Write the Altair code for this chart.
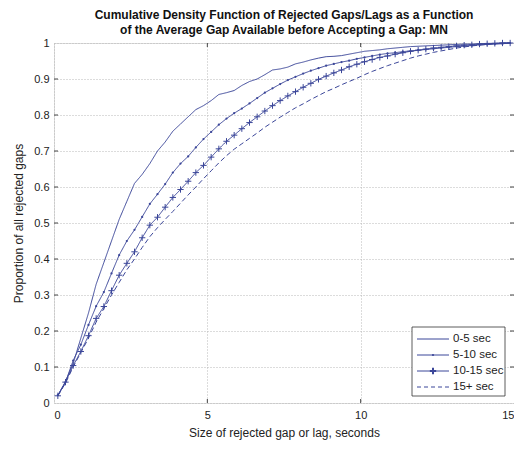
import altair as alt
import numpy as np
import pandas as pd

# bin centers, seconds
gap_s = list(np.round(np.arange(0.125, 15.0, 0.25), 3))

series_names = ["0-5 sec", "5-10 sec", "10-15 sec", "15+ sec"]

cdf_0_5 = [0.02, 0.06, 0.11, 0.18, 0.25, 0.33, 0.39, 0.45, 0.51, 0.56,
           0.61, 0.635, 0.665, 0.70, 0.725, 0.755, 0.775, 0.795, 0.815, 0.826,
           0.84, 0.857, 0.862, 0.868, 0.882, 0.893, 0.9, 0.912, 0.925, 0.928,
           0.933, 0.942, 0.947, 0.953, 0.958, 0.962, 0.963, 0.965, 0.969, 0.973,
           0.977, 0.979, 0.981, 0.984, 0.986, 0.988, 0.99, 0.991, 0.992, 0.993,
           0.994, 0.995, 0.996, 0.997, 0.997, 0.998, 0.999, 0.999, 1.0, 1.0]

cdf_5_10 = [0.022, 0.058, 0.118, 0.162, 0.217, 0.269, 0.308, 0.36, 0.411, 0.45,
            0.481, 0.517, 0.553, 0.58, 0.608, 0.64, 0.665, 0.685, 0.71, 0.733,
            0.753, 0.773, 0.79, 0.805, 0.818, 0.832, 0.847, 0.862, 0.874, 0.886,
            0.897, 0.906, 0.915, 0.923, 0.93, 0.937, 0.942, 0.947, 0.951, 0.956,
            0.96, 0.964, 0.968, 0.971, 0.973, 0.976, 0.978, 0.98, 0.982, 0.984,
            0.986, 0.988, 0.99, 0.991, 0.993, 0.995, 0.996, 0.997, 0.998, 1.0]

cdf_10_15 = [0.02, 0.058, 0.104, 0.143, 0.187, 0.235, 0.268, 0.312, 0.355, 0.388,
             0.42, 0.459, 0.494, 0.516, 0.544, 0.571, 0.593, 0.616, 0.64, 0.66,
             0.683, 0.706, 0.727, 0.744, 0.762, 0.779, 0.795, 0.811, 0.826, 0.84,
             0.853, 0.865, 0.877, 0.888, 0.899, 0.908, 0.917, 0.925, 0.934, 0.941,
             0.948, 0.954, 0.96, 0.964, 0.969, 0.973, 0.977, 0.98, 0.983, 0.986,
             0.988, 0.99, 0.992, 0.994, 0.995, 0.997, 0.998, 0.999, 1.0, 1.0]

cdf_15p = [0.02, 0.055, 0.1, 0.14, 0.18, 0.225, 0.262, 0.3, 0.335, 0.37,
           0.4, 0.432, 0.462, 0.487, 0.51, 0.532, 0.555, 0.578, 0.6, 0.623,
           0.645, 0.667, 0.687, 0.705, 0.72, 0.735, 0.75, 0.766, 0.78, 0.794,
           0.807, 0.82, 0.831, 0.843, 0.854, 0.865, 0.874, 0.884, 0.893, 0.902,
           0.912, 0.921, 0.929, 0.937, 0.944, 0.951, 0.958, 0.964, 0.969, 0.974,
           0.978, 0.982, 0.986, 0.989, 0.992, 0.994, 0.996, 0.998, 0.999, 1.0]

x_ticks = [0, 5, 10, 15]
y_ticks = [0, 0.1, 0.2, 0.3, 0.4, 0.5, 0.6, 0.7, 0.8, 0.9, 1.0]

LINE = "#3b4699"
FONT = "Liberation Sans"
W, H = 460, 360

rows = []
for name, vals in zip(series_names, [cdf_0_5, cdf_5_10, cdf_10_15, cdf_15p]):
    for g, v in zip(gap_s, vals):
        rows.append({"gap": g, "p": v, "series": name})
df = pd.DataFrame(rows)

xs = alt.Scale(domain=[0, 15], nice=False, zero=False)
ys = alt.Scale(domain=[0, 1], nice=False)

xax = alt.Axis(values=x_ticks, grid=True, gridDash=[1, 2], gridColor="#b8b8b8",
               tickSize=0, domain=False, labelPadding=6, labelFont=FONT,
               labelFontSize=11, labelColor="#222", labelOverlap=False,
               title="Size of rejected gap or lag, seconds", titleFont=FONT,
               titleFontSize=12, titleFontWeight="normal", titleColor="#222",
               titleX=W / 2, titleY=29, titleBaseline="middle", titleAlign="center")
yax = alt.Axis(values=y_ticks, format="~g", grid=True, gridDash=[1, 2],
               gridColor="#b8b8b8", tickSize=0, domain=False, labelPadding=5,
               labelFont=FONT, labelFontSize=11, labelColor="#222", labelOverlap=False,
               title="Proportion of all rejected gaps", titleFont=FONT,
               titleFontSize=12, titleFontWeight="normal", titleColor="#222",
               titleX=-36, titleY=H / 2, titleAngle=-90, titleBaseline="middle",
               titleAlign="center")

X = alt.X("gap:Q", scale=xs, axis=xax)
Y = alt.Y("p:Q", scale=ys, axis=yax)

base = alt.Chart(df)

lines = base.mark_line(strokeWidth=1, color=LINE).encode(
    x=X, y=Y,
    strokeDash=alt.StrokeDash("series:N", scale=alt.Scale(
        domain=series_names, range=[[1, 0], [1, 0], [1, 0], [5, 3]]), legend=None),
    detail="series:N",
)

dots = base.transform_filter(alt.datum.series == "5-10 sec").mark_point(
    shape="circle", filled=True, size=5, color=LINE, opacity=1
).encode(x=X, y=Y)

plus = base.transform_filter(alt.datum.series == "10-15 sec").mark_point(
    shape="M-1,0L1,0M0,-1L0,1", filled=False, size=40, color=LINE,
    strokeWidth=1, opacity=1
).encode(x=X, y=Y)

# inward tick marks (MATLAB style)
xt = pd.DataFrame({"gap": x_ticks[1:-1]})
yt = pd.DataFrame({"p": y_ticks[1:-1]})
tick_style = dict(color="#444", strokeWidth=1)
xt_bot = alt.Chart(xt).mark_rule(**tick_style).encode(
    x=X, y=alt.value(H), y2=alt.value(H - 4))
xt_top = alt.Chart(xt).mark_rule(**tick_style).encode(
    x=X, y=alt.value(0), y2=alt.value(4))
yt_l = alt.Chart(yt).mark_rule(**tick_style).encode(
    y=Y, x=alt.value(0), x2=alt.value(4))
yt_r = alt.Chart(yt).mark_rule(**tick_style).encode(
    y=Y, x=alt.value(W), x2=alt.value(W - 4))

# legend box
lx0, lx1, ly0, ly1 = W - 102, W - 9, H - 76, H - 7
leg_df = pd.DataFrame({"label": series_names})
legend_layers = [
    alt.Chart(leg_df.head(1)).mark_rect(fill="white", stroke="#333", strokeWidth=0.8).encode(
        x=alt.value(lx0), x2=alt.value(lx1), y=alt.value(ly0), y2=alt.value(ly1))
]
entry_y = [ly0 + 12, ly0 + 28, ly0 + 44, ly0 + 60]
sx0, sx1 = lx0 + 5, lx0 + 37
tx = sx1 + 4
for i, name in enumerate(series_names):
    one = alt.Chart(leg_df).transform_filter(alt.datum.label == name)
    dash = [4, 3] if name == "15+ sec" else [1, 0]
    legend_layers.append(one.mark_rule(color=LINE, strokeWidth=1, strokeDash=dash).encode(
        x=alt.value(sx0), x2=alt.value(sx1), y=alt.value(entry_y[i])))
    legend_layers.append(one.mark_text(align="left", baseline="middle", font=FONT,
                                       fontSize=11.5, color="#222").encode(
        x=alt.value(tx), y=alt.value(entry_y[i]), text="label:N"))
    if name == "5-10 sec":
        legend_layers.append(one.mark_point(shape="circle", filled=True, size=5,
                                            color=LINE, opacity=1).encode(
            x=alt.value((sx0 + sx1) / 2), y=alt.value(entry_y[i])))
    if name == "10-15 sec":
        legend_layers.append(one.mark_point(shape="M-1,0L1,0M0,-1L0,1", filled=False,
                                            size=40, color=LINE, opacity=1).encode(
            x=alt.value((sx0 + sx1) / 2), y=alt.value(entry_y[i])))

chart = alt.layer(lines, dots, plus, xt_bot, xt_top, yt_l, yt_r, *legend_layers).properties(
    width=W, height=H,
    title=alt.TitleParams(
        ["Cumulative Density Function of Rejected Gaps/Lags as a Function",
         "of the Average Gap Available before Accepting a Gap: MN"],
        font=FONT, fontSize=12, fontWeight="bold", color="#111",
        anchor="middle", offset=0, lineHeight=15),
    autosize=alt.AutoSizeParams(type="none"),
    padding={"left": 46, "top": 35, "right": 0, "bottom": 38},
).configure_view(stroke="#444", strokeWidth=1).configure(background="white")

chart.save("out.html", embed_options={"renderer": "svg", "actions": False})
